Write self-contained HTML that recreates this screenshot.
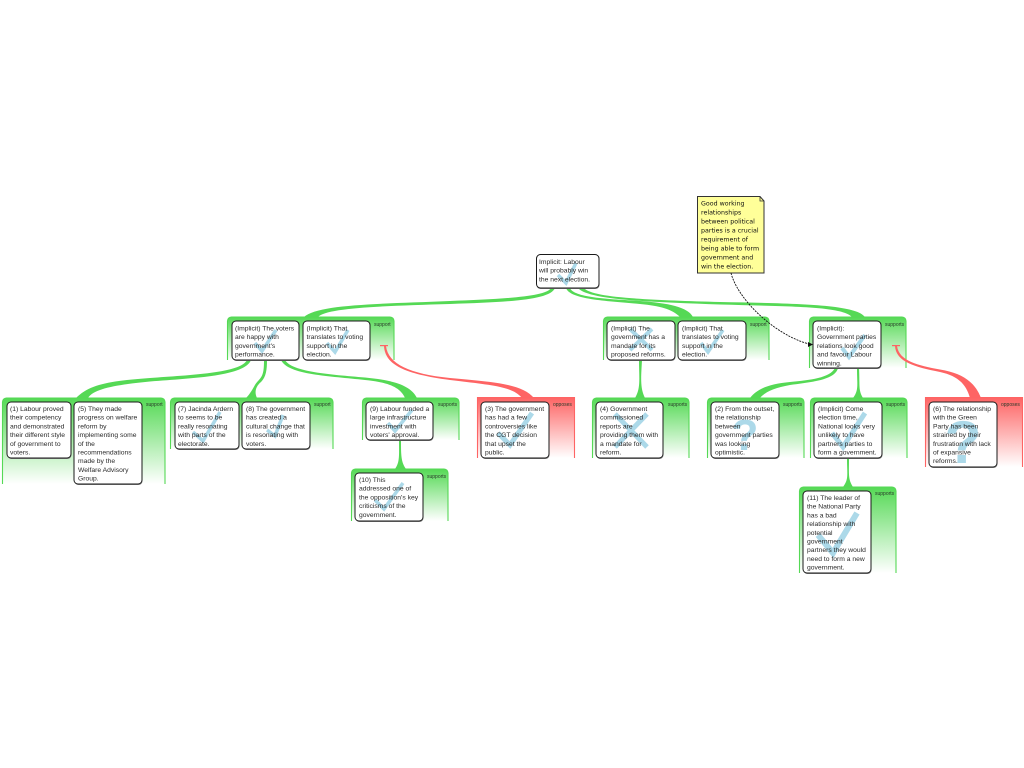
<!DOCTYPE html>
<html><head><meta charset="utf-8"><style>
html,body{margin:0;padding:0;background:#fff}
svg{display:block}
text{font-family:"Liberation Sans",sans-serif;font-size:6.75px;fill:#2a2a2a}
.l{font-size:5px;fill:#2a3a2a}
.n{font-family:"Comic Sans MS","DejaVu Sans",cursive;font-size:6.3px;fill:#111}
.q{font-family:"Liberation Sans",sans-serif;font-weight:bold;fill:#acd9e9}
.f{stroke:#55d955;stroke-width:1.1;fill:url(#gg)}
.r{stroke:#fe6464;stroke-width:1.1;fill:url(#rg)}
.c{fill:#fff;stroke:#1a1a1a;stroke-width:1}
.s{fill:#888}
.k{fill:none;stroke:#acd9e9;stroke-linejoin:miter}
</style></head><body>
<svg width="1024" height="768" viewBox="0 0 1024 768" xmlns="http://www.w3.org/2000/svg">
<defs>
<linearGradient id="gg" x1="0" y1="0" x2="0" y2="1"><stop offset="0" stop-color="#55d955"/><stop offset="1" stop-color="#fff"/></linearGradient>
<linearGradient id="rg" x1="0" y1="0" x2="0" y2="1"><stop offset="0" stop-color="#fe6464"/><stop offset="1" stop-color="#fff"/></linearGradient>
</defs>
<!-- frames -->
<path class="f" d="M227.500,360V321a4,4 0 0 1 4,-4H390a4,4 0 0 1 4,4V360"/>
<path class="f" d="M2.500,484V402a4,4 0 0 1 4,-4H161a4,4 0 0 1 4,4V484"/>
<path class="f" d="M170.500,449V402a4,4 0 0 1 4,-4H329a4,4 0 0 1 4,4V449"/>
<path class="f" d="M362.500,440V402a4,4 0 0 1 4,-4H455a4,4 0 0 1 4,4V440"/>
<path class="r" d="M477.500,458V397.500H574.500V458"/>
<path class="f" d="M351.500,521V473a4,4 0 0 1 4,-4H444a4,4 0 0 1 4,4V521"/>
<path class="f" d="M603.500,360V321a4,4 0 0 1 4,-4H765a4,4 0 0 1 4,4V360"/>
<path class="f" d="M592.500,458V402a4,4 0 0 1 4,-4H685a4,4 0 0 1 4,4V458"/>
<path class="f" d="M707.500,458V402a4,4 0 0 1 4,-4H800a4,4 0 0 1 4,4V458"/>
<path class="f" d="M810.500,458V402a4,4 0 0 1 4,-4H903a4,4 0 0 1 4,4V458"/>
<path class="f" d="M809.500,368V321a4,4 0 0 1 4,-4H902a4,4 0 0 1 4,4V368"/>
<path class="r" d="M925.500,467V397.500H1022.500V467"/>
<path class="f" d="M799.500,573V491a4,4 0 0 1 4,-4H892a4,4 0 0 1 4,4V573"/>
<!-- connectors -->
<g fill="#55d955">
<path d="M551,288C546,297 500,299 450,301C380,304 318,304 304,317H318C326,308 380,306 450,304C510,302 550,300 555,288Z"/>
<path d="M566,288C570,300 610,301 640,304C660,306 672,309 680,317H693C688,307 668,303 640,301C610,299 574,298 570,288Z"/>
<path d="M578,288C588,300 650,302 720,304.500C790,306.500 842,306 852,317H865C856,304.500 800,303.500 720,302C650,300 592,298 584,288Z"/>
<path d="M247,360C241,373 190,375 150,378C110,381 90,384 76,398H88C94,388 120,384.500 150,381.500C195,378 245,376 251,360Z"/>
<path d="M264,360C264,372 263,376 258,381C254,385 252,392 246,398H257C254,392 256,386 261,382C266,377 267,370 267,360Z"/>
<path d="M281,360C288,375 330,376 365,380C385,382 400,386 405,398H417C410,384 390,380 365,377.500C330,374.500 292,372 285,360Z"/>
<path d="M399,440C399,455 400,462 395,469H406C401,462 401,455 401,440Z"/>
<path d="M639,360C639,378 641,388 635,398H645C640,388 641,378 642,360Z"/>
<path d="M835,368C830,378 810,380 790,382C770,384 758,388 750,398H760C766,391 775,388 790,385C812,382 835,380 838,368Z"/>
<path d="M857,368C857,385 859,390 853,398H863C858,390 860,385 859,368Z"/>
<path d="M847,458C847,475 849,479 843,487H853C848,479 849,475 849,458Z"/>
</g>
<g fill="#fe6464">
<path d="M384,346C385,365 405,374 450,380C490,385 512,386 522,398H534C522,384 495,382 450,378C410,374 388,364 386,346Z"/>
<path d="M895,346C896,362 915,367 940,372C958,376 966,384 970,398H981C975,382 962,373 940,369.500C918,365.500 899,361 897,346Z"/>
<rect x="380" y="345" width="8" height="1.2"/>
<rect x="892" y="345" width="8" height="1.2"/>
</g>
<!-- card shadows -->
<g class="s">
<rect x="536.5" y="255" width="63" height="34" rx="4"/>
<rect x="232.5" y="321.5" width="67" height="39.500" rx="4"/><rect x="303.500" y="321.5" width="67" height="39.500" rx="4"/>
<rect x="7.5" y="402.5" width="64" height="56.500" rx="4"/><rect x="74.5" y="402.5" width="68" height="82.500" rx="4"/>
<rect x="175.5" y="402.5" width="64" height="47.500" rx="4"/><rect x="242.5" y="402.5" width="68" height="47.500" rx="4"/>
<rect x="366.5" y="402.5" width="67" height="38.500" rx="4"/><rect x="481.5" y="402.5" width="68" height="56.500" rx="4"/>
<rect x="355.5" y="473.5" width="68" height="48.500" rx="4"/>
<rect x="607.5" y="321.5" width="68" height="39.500" rx="4"/><rect x="678.5" y="321.5" width="68" height="39.500" rx="4"/>
<rect x="596.5" y="402.5" width="67" height="56.500" rx="4"/><rect x="711.5" y="402.5" width="68" height="56.500" rx="4"/>
<rect x="814.5" y="402.5" width="68" height="56.500" rx="4"/><rect x="813.5" y="321.5" width="68" height="47.500" rx="4"/>
<rect x="929.5" y="402.5" width="68" height="65.500" rx="4"/><rect x="803.5" y="491.5" width="68" height="82.500" rx="4"/>
</g>
<!-- cards -->
<g class="c">
<rect x="536.500" y="254.500" width="62.500" height="33.500" rx="4"/>
<rect x="232" y="321" width="67" height="39" rx="4"/><rect x="303" y="321" width="67" height="39" rx="4"/>
<rect x="7" y="402" width="64" height="56" rx="4"/><rect x="74" y="402" width="68" height="82" rx="4"/>
<rect x="175" y="402" width="64" height="47" rx="4"/><rect x="242" y="402" width="68" height="47" rx="4"/>
<rect x="366" y="402" width="67" height="38" rx="4"/><rect x="481" y="402" width="68" height="56" rx="4"/>
<rect x="355" y="473" width="68" height="48" rx="4"/>
<rect x="607" y="321" width="68" height="39" rx="4"/><rect x="678" y="321" width="68" height="39" rx="4"/>
<rect x="596" y="402" width="67" height="56" rx="4"/><rect x="711" y="402" width="68" height="56" rx="4"/>
<rect x="814" y="402" width="68" height="56" rx="4"/><rect x="813" y="321" width="68" height="47" rx="4"/>
<rect x="929" y="402" width="68" height="65" rx="4"/><rect x="803" y="491" width="68" height="82" rx="4"/>
</g>
<!-- marks -->
<g class="k">
<polyline stroke-width="3.500" points="558,275 566,283 576,263"/>
<polyline stroke-width="3.500" points="255,343 262,351 276,330"/>
<polyline stroke-width="3.500" points="327,343 335,352 348,330"/>
<polyline stroke-width="3.500" points="193,432 203,441 220,412"/>
<polyline stroke-width="3.500" points="267,430 275,436 283,415"/>
<polyline stroke-width="3.500" points="388,423 395,431 412,410"/>
<polyline stroke-width="5" points="498,433 510,445 532,413"/>
<polyline stroke-width="3.500" points="375,500 384,509 403,483"/>
<polyline stroke-width="3.500" points="701,343 708,352 723,330"/>
<polyline stroke-width="4" points="842,348 849,357 865,335"/>
<polyline stroke-width="5" points="832,433 843,447 865,413"/>
<polyline stroke-width="6" points="818,535 833,553 857,513"/>
<path stroke-width="4" d="M630,329L652,350M652,329L630,350"/>
<path stroke-width="5" d="M615,414L647,447M647,414L615,447"/>
</g>
<text class="q" x="745" y="450" style="font-size:44px" text-anchor="middle">?</text>
<text class="q" x="963" y="463" style="font-size:60px" text-anchor="middle">?</text>
<!-- note -->
<path d="M697.500,196.500H760L764,201V273H697.500Z" fill="#ffff99" stroke="#333" stroke-width="1"/>
<path d="M760,196.500V201H764" fill="none" stroke="#333" stroke-width=".8"/>
<path d="M731,273C738,300 775,335 809,344" fill="none" stroke="#111" stroke-width=".9" stroke-dasharray="2 1"/>
<path d="M813,344.500L808,342V347Z" fill="#111"/>
<!-- group labels -->
<text class="l" x="374" y="326">support</text>
<text class="l" x="146" y="406">support</text>
<text class="l" x="314" y="406">support</text>
<text class="l" x="438" y="406">supports</text>
<text class="l" x="553" y="406">opposes</text>
<text class="l" x="427" y="478">supports</text>
<text class="l" x="750" y="326">support</text>
<text class="l" x="668" y="406">supports</text>
<text class="l" x="783" y="406">supports</text>
<text class="l" x="886" y="406">supports</text>
<text class="l" x="885" y="326">supports</text>
<text class="l" x="1001" y="406">opposes</text>
<text class="l" x="875" y="495">supports</text>
<!-- text -->
<text><tspan x="539" y="264">Implicit: Labour</tspan><tspan x="539" dy="8.700">will probably win</tspan><tspan x="539" dy="8.700">the next election.</tspan></text>
<text><tspan x="235" y="330.500">(Implicit) The voters</tspan><tspan x="235" dy="8.700">are happy with</tspan><tspan x="235" dy="8.700">government's</tspan><tspan x="235" dy="8.700">performance.</tspan></text>
<text><tspan x="306.500" y="330.500">(Implicit) That</tspan><tspan x="306.500" dy="8.700">translates to voting</tspan><tspan x="306.500" dy="8.700">support in the</tspan><tspan x="306.500" dy="8.700">election.</tspan></text>
<text><tspan x="10" y="411">(1) Labour proved</tspan><tspan x="10" dy="8.700">their competency</tspan><tspan x="10" dy="8.700">and demonstrated</tspan><tspan x="10" dy="8.700">their different style</tspan><tspan x="10" dy="8.700">of government to</tspan><tspan x="10" dy="8.700">voters.</tspan></text>
<text><tspan x="78" y="411">(5) They made</tspan><tspan x="78" dy="8.700">progress on welfare</tspan><tspan x="78" dy="8.700">reform by</tspan><tspan x="78" dy="8.700">implementing some</tspan><tspan x="78" dy="8.700">of the</tspan><tspan x="78" dy="8.700">recommendations</tspan><tspan x="78" dy="8.700">made by the</tspan><tspan x="78" dy="8.700">Welfare Advisory</tspan><tspan x="78" dy="8.700">Group.</tspan></text>
<text><tspan x="178" y="411">(7) Jacinda Ardern</tspan><tspan x="178" dy="8.700">to seems to be</tspan><tspan x="178" dy="8.700">really resonating</tspan><tspan x="178" dy="8.700">with parts of the</tspan><tspan x="178" dy="8.700">electorate.</tspan></text>
<text><tspan x="246" y="411">(8) The government</tspan><tspan x="246" dy="8.700">has created a</tspan><tspan x="246" dy="8.700">cultural change that</tspan><tspan x="246" dy="8.700">is resonating with</tspan><tspan x="246" dy="8.700">voters.</tspan></text>
<text><tspan x="370" y="411">(9) Labour funded a</tspan><tspan x="370" dy="8.700">large infrastructure</tspan><tspan x="370" dy="8.700">investment with</tspan><tspan x="370" dy="8.700">voters' approval.</tspan></text>
<text><tspan x="485" y="411">(3) The government</tspan><tspan x="485" dy="8.700">has had a few</tspan><tspan x="485" dy="8.700">controversies like</tspan><tspan x="485" dy="8.700">the CGT decision</tspan><tspan x="485" dy="8.700">that upset the</tspan><tspan x="485" dy="8.700">public.</tspan></text>
<text><tspan x="359" y="482">(10) This</tspan><tspan x="359" dy="8.700">addressed one of</tspan><tspan x="359" dy="8.700">the opposition's key</tspan><tspan x="359" dy="8.700">criticisms of the</tspan><tspan x="359" dy="8.700">government.</tspan></text>
<text><tspan x="611" y="330.500">(Implicit) The</tspan><tspan x="611" dy="8.700">government has a</tspan><tspan x="611" dy="8.700">mandate for its</tspan><tspan x="611" dy="8.700">proposed reforms.</tspan></text>
<text><tspan x="682" y="330.500">(Implicit) That</tspan><tspan x="682" dy="8.700">translates to voting</tspan><tspan x="682" dy="8.700">support in the</tspan><tspan x="682" dy="8.700">election.</tspan></text>
<text><tspan x="600" y="411">(4) Government</tspan><tspan x="600" dy="8.700">commissioned</tspan><tspan x="600" dy="8.700">reports are</tspan><tspan x="600" dy="8.700">providing them with</tspan><tspan x="600" dy="8.700">a mandate for</tspan><tspan x="600" dy="8.700">reform.</tspan></text>
<text><tspan x="715" y="411">(2) From the outset,</tspan><tspan x="715" dy="8.700">the relationship</tspan><tspan x="715" dy="8.700">between</tspan><tspan x="715" dy="8.700">government parties</tspan><tspan x="715" dy="8.700">was looking</tspan><tspan x="715" dy="8.700">optimistic.</tspan></text>
<text><tspan x="818" y="411">(Implicit) Come</tspan><tspan x="818" dy="8.700">election time,</tspan><tspan x="818" dy="8.700">National looks very</tspan><tspan x="818" dy="8.700">unlikely to have</tspan><tspan x="818" dy="8.700">partners parties to</tspan><tspan x="818" dy="8.700">form a government.</tspan></text>
<text><tspan x="817" y="330.500">(Implicit):</tspan><tspan x="817" dy="8.700">Government parties</tspan><tspan x="817" dy="8.700">relations look good</tspan><tspan x="817" dy="8.700">and favour Labour</tspan><tspan x="817" dy="8.700">winning.</tspan></text>
<text><tspan x="933" y="411">(6) The relationship</tspan><tspan x="933" dy="8.700">with the Green</tspan><tspan x="933" dy="8.700">Party has been</tspan><tspan x="933" dy="8.700">strained by their</tspan><tspan x="933" dy="8.700">frustration with lack</tspan><tspan x="933" dy="8.700">of expansive</tspan><tspan x="933" dy="8.700">reforms.</tspan></text>
<text><tspan x="807" y="500">(11) The leader of</tspan><tspan x="807" dy="8.700">the National Party</tspan><tspan x="807" dy="8.700">has a bad</tspan><tspan x="807" dy="8.700">relationship with</tspan><tspan x="807" dy="8.700">potential</tspan><tspan x="807" dy="8.700">government</tspan><tspan x="807" dy="8.700">partners they would</tspan><tspan x="807" dy="8.700">need to form a new</tspan><tspan x="807" dy="8.700">government.</tspan></text>
<text class="n"><tspan x="701" y="205.500">Good working</tspan><tspan x="701" dy="9">relationships</tspan><tspan x="701" dy="9">between political</tspan><tspan x="701" dy="9">parties is a crucial</tspan><tspan x="701" dy="9">requirement of</tspan><tspan x="701" dy="9">being able to form</tspan><tspan x="701" dy="9">government and</tspan><tspan x="701" dy="9">win the election.</tspan></text>
</svg>
</body></html>
